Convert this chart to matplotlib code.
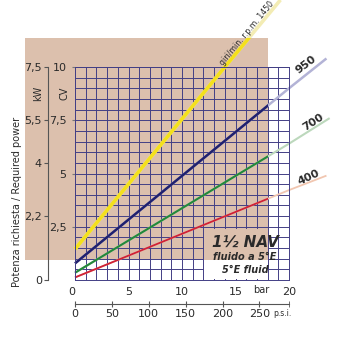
import numpy as np
import matplotlib
matplotlib.use('Agg')
import matplotlib.pyplot as plt
from matplotlib.patches import Rectangle

# pressure (bar) / power (CV) points, incl. the faded extensions
bar_1450 = [0, 14.0, 19.2]
cv_1450 = [1.45, 10.0, 13.15]
bar_950 = [0, 20, 23.5]
cv_950 = [0.78, 9.0, 10.4]
bar_700 = [0, 20, 23.8]
cv_700 = [0.34, 6.4, 7.6]
bar_400 = [0, 20, 23.5]
cv_400 = [0.12, 4.22, 4.9]

bar_ticks = [0, 5, 10, 15, 20]
cv_ticks = [2.5, 5, 7.5, 10]
cv_labels = ['2,5', '5', '7,5', '10']
kw_pos = [0, 3, 5.5, 7.5, 10]          # kW labels sit on CV positions
kw_labels = ['0', '2,2', '4', '5,5', '7,5']
psi_ticks = [0, 50, 100, 150, 200, 250]

TAN = '#dcc0ad'
GRID = '#433f85'
TXT = '#2a2a2a'
PX = 340.0

fig = plt.figure(figsize=(3.4, 3.4), dpi=100)
fig.patch.set_facecolor('white')

# shaded background (pixel box 25..268 x 38..260)
fig.add_artist(Rectangle((25 / PX, 1 - 260 / PX), (268 - 25) / PX, (260 - 38) / PX,
                         transform=fig.transFigure, fc=TAN, ec='none', zorder=-1))

ax = fig.add_axes([75 / PX, 60 / PX, 214 / PX, 213 / PX])
ax.set_facecolor('none')
ax.set_xlim(0, 20); ax.set_ylim(0, 10)
ax.set_axisbelow(True)

ax.set_xticks(bar_ticks, [str(b) for b in bar_ticks])
ax.set_xticks(np.arange(0, 21, 1), minor=True)
ax.set_yticks(cv_ticks, cv_labels)
ax.set_yticks(np.arange(0, 10.5, 0.5), minor=True)
ax.grid(which='both', color=GRID, lw=0.7)
ax.tick_params(axis='x', which='both', length=0, pad=5, labelsize=8, labelcolor=TXT)
ax.tick_params(axis='y', which='major', length=2, color='#777', pad=4, labelsize=8, labelcolor=TXT)
ax.tick_params(axis='y', which='minor', length=0)
ax.get_xticklabels()[0].set_horizontalalignment('right')
for s in ax.spines.values():
    s.set_color(GRID); s.set_linewidth(0.7)

# label box hides the grid
ax.add_patch(Rectangle((12.1, 0.94), 5.94, 1.46, fc=TAN, ec='none', zorder=1))
ax.add_patch(Rectangle((12.1, 0.05), 5.94, 0.89, fc='white', ec='none', zorder=1))
ax.text(15.9, 1.77, '1½ NAV', ha='center', va='center', fontsize=11,
        fontweight='bold', style='italic', color=TXT, zorder=3)
ax.text(15.9, 1.07, 'fluido a 5°E', ha='center', va='center', fontsize=7,
        fontweight='bold', style='italic', color=TXT, zorder=3)
ax.text(15.9, 0.47, '5°E fluid', ha='center', va='center', fontsize=7,
        fontweight='bold', style='italic', color=TXT, zorder=3)

# curves: faded full extent + saturated part inside the shaded area
series = [
    (bar_1450, cv_1450, '#f4e01c', '#f3ecb4', 2.6),
    (bar_950, cv_950, '#20206e', '#b3b3d6', 1.8),
    (bar_700, cv_700, '#23883a', '#bcd8bc', 1.5),
    (bar_400, cv_400, '#cf2136', '#f1c6b0', 1.3),
]
clip = Rectangle((-1, -1), 19.04, 12.35, transform=ax.transData)
for xs, ys, col, faded, lw in series:
    ax.plot(xs, ys, color=faded, lw=lw, clip_on=False, zorder=2, solid_capstyle='butt')
    ln, = ax.plot(xs, ys, color=col, lw=lw, zorder=2.1, solid_capstyle='butt')
    ln.set_clip_path(clip)

ax.text(16.05, 11.6, 'giri/min. r.p.m. 1450', rotation=50.5, ha='center', va='center',
        fontsize=5.6, color=TXT, clip_on=False)
ax.text(21.6, 10.1, '950', rotation=37, ha='center', va='center', fontsize=8,
        fontweight='bold', color=TXT, clip_on=False)
ax.text(22.3, 7.4, '700', rotation=33, ha='center', va='center', fontsize=8,
        fontweight='bold', color=TXT, clip_on=False)
ax.text(21.8, 4.83, '400', rotation=25, ha='center', va='center', fontsize=8,
        fontweight='bold', color=TXT, clip_on=False)

# kW scale on the left
kw = ax.secondary_yaxis((48 - 75) / 214)
kw.set_yticks(kw_pos, kw_labels)
kw.spines['left'].set_color('#555'); kw.spines['left'].set_linewidth(0.8)
kw.tick_params(length=3, color='#555', pad=1.5, labelsize=8, labelcolor=TXT)

# p.s.i. scale below
psi = ax.secondary_xaxis((280 - 304) / 213.0,
                         functions=(lambda b: b * 14.5038, lambda p: p / 14.5038))
psi.set_xticks(psi_ticks, [str(p) for p in psi_ticks])
psi.set_xticks([290], minor=True)
psi.spines['bottom'].set_color('#555'); psi.spines['bottom'].set_linewidth(0.8)
psi.tick_params(which='both', direction='inout', length=4, color='#555', pad=1.5,
                labelsize=8, labelcolor=TXT)

fig.text(38 / PX, 1 - 93 / PX, 'kW', rotation=90, ha='center', va='center', fontsize=7, color=TXT)
fig.text(65 / PX, 1 - 93 / PX, 'CV', rotation=90, ha='center', va='center', fontsize=7, color=TXT)
fig.text(17 / PX, 1 - 202 / PX, 'Potenza richiesta / Required power', rotation=90,
         ha='center', va='center', fontsize=7, color=TXT)
fig.text(261 / PX, 1 - 290 / PX, 'bar', ha='center', va='center', fontsize=7, color=TXT)
fig.text(282 / PX, 1 - 313 / PX, 'p.s.i.', ha='center', va='center', fontsize=5.5, color=TXT)

fig.savefig('out.png', dpi=100)
